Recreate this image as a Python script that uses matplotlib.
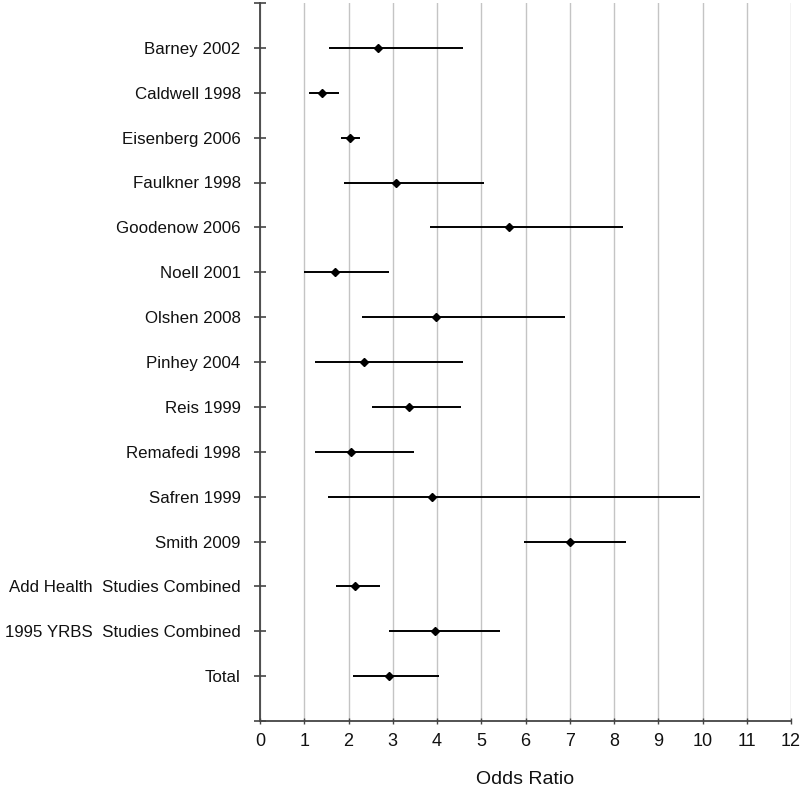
import matplotlib
matplotlib.use("Agg")
import matplotlib.pyplot as plt

studies = ["Barney 2002", "Caldwell 1998", "Eisenberg 2006", "Faulkner 1998",
           "Goodenow 2006", "Noell 2001", "Olshen 2008", "Pinhey 2004",
           "Reis 1999", "Remafedi 1998", "Safren 1999", "Smith 2009",
           "Add Health  Studies Combined", "1995 YRBS  Studies Combined", "Total"]
odds = [2.66, 1.39, 2.03, 3.07, 5.62, 1.69, 3.97, 2.36, 3.37, 2.06, 3.88, 7.01, 2.15, 3.95, 2.91]
ci_low = [1.57, 1.10, 1.83, 1.89, 3.85, 1.00, 2.30, 1.25, 2.52, 1.25, 1.53, 5.96, 1.72, 2.91, 2.11]
ci_high = [4.59, 1.78, 2.27, 5.07, 8.20, 2.92, 6.89, 4.59, 4.55, 3.48, 9.94, 8.27, 2.72, 5.42, 4.04]
x_ticks = list(range(0, 13))

plt.rcParams['font.family'] = ['Liberation Sans', 'DejaVu Sans']

fig = plt.figure(figsize=(8.0, 7.86), dpi=100)
ax = fig.add_axes([260/800, 1 - 721/786, (791-260)/800, (721-3)/786])

ypos = list(range(1, len(studies) + 1))
ax.hlines(ypos, ci_low, ci_high, color='black', lw=1.4, zorder=3)
ax.plot(odds, ypos, linestyle='none', marker='D', markersize=4.3, color='black', zorder=4)

ax.set_xlim(0, 12)
ax.set_ylim(16, 0)
ax.set_xticks(x_ticks)
ax.set_xticklabels([str(t) for t in x_ticks], fontsize=13, color='#111111')
ax.set_yticks([0] + ypos + [16])
ax.set_yticklabels([""] + studies + [""], fontsize=12.2, color='#111111')
ax.tick_params(axis='y', direction='inout', length=9, width=1.2, pad=9.5, color='#444444')
ax.tick_params(axis='x', direction='inout', length=5, width=1.0, pad=6, color='#444444')
ax.grid(axis='x', color='#c4c4c4', lw=1)
ax.set_axisbelow(True)
for s in ['top', 'right']:
    ax.spines[s].set_visible(False)
for s in ['left', 'bottom']:
    ax.spines[s].set_color('#444444')
    ax.spines[s].set_linewidth(1.3)
ax.set_xlabel("Odds Ratio", fontsize=14, labelpad=15, color='#111111')

fig.savefig("out.png", dpi=100)
